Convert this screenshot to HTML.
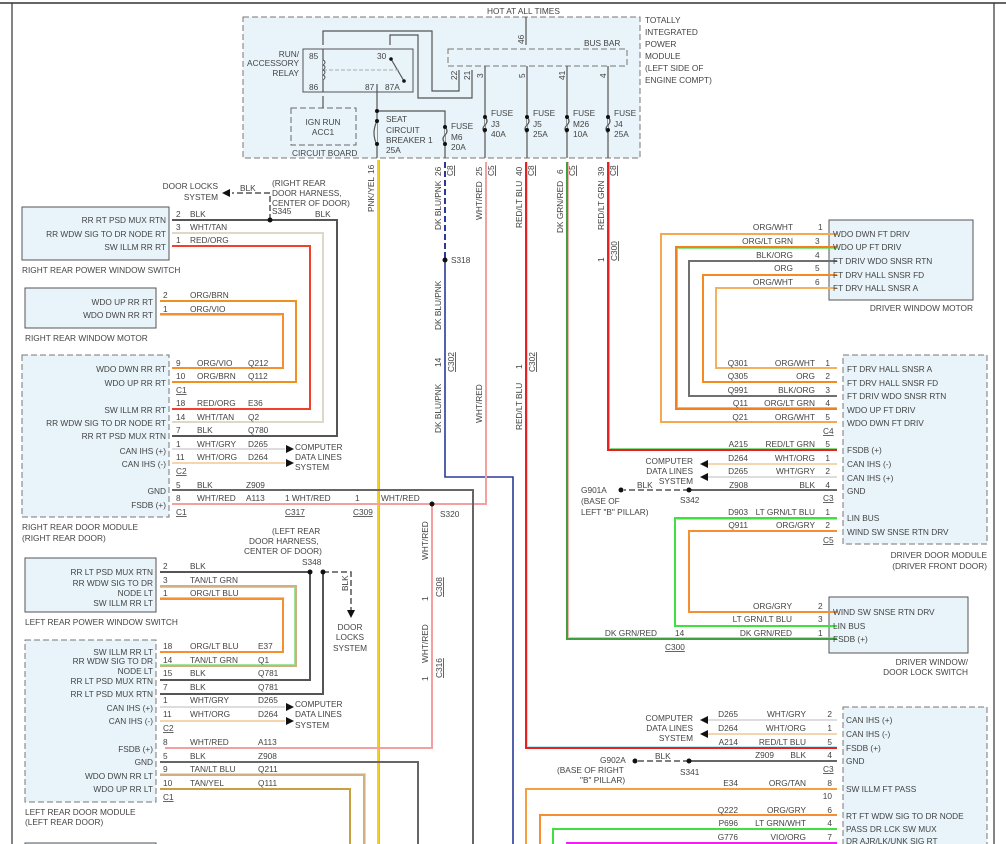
<!DOCTYPE html>
<html><head><meta charset="utf-8"><style>
html,body{margin:0;padding:0;background:#fff;}
svg{display:block;font-family:"Liberation Sans",sans-serif;}
text{font-size:8.3px;fill:#444;}
</style></head><body>
<svg width="1006" height="844" viewBox="0 0 1006 844" xmlns="http://www.w3.org/2000/svg">
<g fill="none" stroke-linejoin="miter">
<line x1="0" y1="3" x2="1006" y2="3" stroke="#333" stroke-width="1.5"/>
<line x1="12" y1="3" x2="12" y2="844" stroke="#333" stroke-width="1.2"/>
<line x1="994" y1="3" x2="994" y2="844" stroke="#333" stroke-width="1.2"/>

<rect x="243" y="17" width="397" height="141" fill="#e8f4fa" stroke="#777" stroke-dasharray="6,3"/>
<rect x="448" y="49" width="179" height="17" fill="#e8f4fa" stroke="#777" stroke-dasharray="6,3"/>
<rect x="303" y="49" width="110" height="43" stroke="#555"/>
<rect x="291" y="108" width="65" height="37" stroke="#666" stroke-dasharray="6,3"/>

<rect x="22" y="207" width="147" height="53" fill="#e8f4fa" stroke="#555"/>
<rect x="25" y="288" width="131" height="40" fill="#e8f4fa" stroke="#555"/>
<rect x="22" y="355" width="147" height="162" fill="#e8f4fa" stroke="#777" stroke-dasharray="6,3"/>
<rect x="25" y="558" width="131" height="54" fill="#e8f4fa" stroke="#555"/>
<rect x="25" y="640" width="131" height="162" fill="#e8f4fa" stroke="#777" stroke-dasharray="6,3"/>
<rect x="25" y="843" width="131" height="10" fill="#e8f4fa" stroke="#555"/>

<rect x="829" y="220" width="144" height="80" fill="#e8f4fa" stroke="#555"/>
<rect x="843" y="355" width="144" height="189" fill="#e8f4fa" stroke="#777" stroke-dasharray="6,3"/>
<rect x="829" y="597" width="139" height="56" fill="#e8f4fa" stroke="#555"/>
<rect x="843" y="707" width="144" height="150" fill="#e8f4fa" stroke="#777" stroke-dasharray="6,3"/>

<g stroke="#555" stroke-width="1.2">
<polyline points="526,17 526,45"/>
<polyline points="323,45 323,31 432,31 432,91 459,91 459,70"/>
<polyline points="390,45 390,35 418,35 418,98 472,98 472,70"/>
<polyline points="323,49 323,92"/>
<polyline points="323,96 323,108"/>
<polyline points="391,59 404,81"/>
<polyline points="377,84 377,158"/>
<polyline points="377,111 445,111 445,158"/>
<polyline points="485,66 485,158"/><polyline points="527,66 527,158"/>
<polyline points="567,66 567,158"/><polyline points="608,66 608,158"/>
</g>
<line x1="323" y1="70" x2="400" y2="70" stroke="#aaa" stroke-dasharray="4,2"/>
<path d="M323,60 q4,2 0,5 q4,2 0,5 q4,2 0,5 q4,2 0,5" stroke="#555" fill="#e8f4fa"/>
<g fill="#e8f4fa" stroke="#555" stroke-width="1.2">
<path d="M377,121 q-6,12 0,24"/>
<path d="M445,127 q4,4 0,8 q-4,4 0,8"/>
<path d="M485,117 q4,4 0,8 q-4,4 0,8"/><path d="M527,117 q4,4 0,8 q-4,4 0,8"/>
<path d="M567,117 q4,4 0,8 q-4,4 0,8"/><path d="M608,117 q4,4 0,8 q-4,4 0,8"/>
</g>
</g>
<g fill="#111">
<circle cx="377" cy="111" r="2"/><circle cx="377" cy="121" r="2"/><circle cx="377" cy="144" r="2"/>
<circle cx="445" cy="127" r="2"/><circle cx="445" cy="144" r="2"/>
<circle cx="485" cy="117" r="2"/><circle cx="485" cy="130" r="2"/>
<circle cx="527" cy="117" r="2"/><circle cx="527" cy="130" r="2"/>
<circle cx="567" cy="117" r="2"/><circle cx="567" cy="130" r="2"/>
<circle cx="608" cy="117" r="2"/><circle cx="608" cy="130" r="2"/>
<circle cx="391" cy="59" r="1.8"/><circle cx="404" cy="81" r="1.8"/>
</g>

<g fill="none" stroke-width="2">
<polyline points="378,160 378,844" stroke="#f5d020"/><polyline points="379.5,160 379.5,844" stroke="#f4a0a0" stroke-width="1"/>
<polyline points="445,162 445,258" stroke="#2a3a9a" stroke-dasharray="6,3"/>
<polyline points="445,260 445,477 513,477 513,844" stroke="#2a3a9a" stroke-width="1.6"/>
<polyline points="486,162 486,504 172,504" stroke="#f4a0a0"/>
<polyline points="432,504 432,748 165,748" stroke="#f4a0a0"/>
<polyline points="526,162 526,748 837,748" stroke="#e82020"/><polyline points="527.5,162 527.5,746.5 837,746.5" stroke="#a0e0f0" stroke-width="0.8"/>
<polyline points="567,162 567,639 837,639" stroke="#40a040"/><polyline points="568.5,162 568.5,637.5 837,637.5" stroke="#f4a0a0" stroke-width="0.8"/>
<polyline points="608,162 608,450 837,450" stroke="#e82020"/><polyline points="609.5,162 609.5,448.5 837,448.5" stroke="#60d060" stroke-width="0.8"/>
<polyline points="172,490 473,490 473,844" stroke="#666"/>
<polyline points="172,220 337,220 337,436 172,436" stroke="#555"/>
<polyline points="172,233 323,233 323,422 172,422" stroke="#ddd8c8"/>
<polyline points="172,246 310,246 310,409 172,409" stroke="#f04030"/>
<polyline points="160,301 296,301 296,382 172,382" stroke="#f0901e"/>
<polyline points="160,314 283,314 283,368 172,368" stroke="#f59030"/><polyline points="160,315.5 281.5,315.5" stroke="#f0a0f0" stroke-width="0.8"/>
<polyline points="172,449 285,449" stroke="#ddd"/>
<polyline points="172,463 285,463" stroke="#f5d5b0"/>
<polyline points="160,572 310,572 310,680 160,680" stroke="#555"/>
<polyline points="323,572 323,694 160,694" stroke="#555"/>
<polyline points="160,586 296,586 296,666 160,666" stroke="#d0b080"/><polyline points="160,587.5 294.5,587.5 294.5,664.5 160,664.5" stroke="#80e080" stroke-width="0.8"/>
<polyline points="160,599 283,599 283,652 160,652" stroke="#f59030"/><polyline points="160,597.5 284.5,597.5" stroke="#80d0e0" stroke-width="0.8"/>
<polyline points="160,707 285,707" stroke="#ddd"/>
<polyline points="160,721 285,721" stroke="#f5d5b0"/>
<polyline points="160,762 418,762 418,844" stroke="#666"/>
<polyline points="160,775 364,775 364,844" stroke="#d0b080"/><polyline points="160,773.5 365.5,773.5 365.5,844" stroke="#a0e0f0" stroke-width="0.8"/>
<polyline points="160,789 350,789 350,844" stroke="#c8a040"/>
<polyline points="837,234 661,234 661,422 837,422" stroke="#f5a850"/>
<polyline points="837,247 676,247 676,409 837,409" stroke="#f08020"/><polyline points="837,248.5 677.5,248.5 677.5,407.5 837,407.5" stroke="#60e060" stroke-width="0.8"/>
<polyline points="837,261 689,261 689,396 837,396" stroke="#707070"/>
<polyline points="837,275 703,275 703,382 837,382" stroke="#f58a20"/>
<polyline points="837,288 716,288 716,368 837,368" stroke="#f5b060"/>
<polyline points="837,464 708,464" stroke="#f5d5b0"/>
<polyline points="837,477 708,477" stroke="#ddd"/>
<polyline points="837,490 689,490" stroke="#666"/>
<polyline points="837,518 675,518 675,626 837,626" stroke="#40e040"/><polyline points="837,519.5 676.5,519.5" stroke="#80d0e0" stroke-width="0.8"/>
<polyline points="837,531 689,531 689,612 837,612" stroke="#f59030"/>
<polyline points="837,720 708,720" stroke="#ddd"/>
<polyline points="837,734 708,734" stroke="#f5d5b0"/>
<polyline points="837,761 689,761" stroke="#666"/>
<polyline points="837,789 526,789 526,844" stroke="#f5a040"/>
<polyline points="837,815 540,815 540,844" stroke="#f59030"/>
<polyline points="837,829 553,829 553,844" stroke="#40e040"/>
<polyline points="837,843 567,843 567,844" stroke="#f020f0"/>
</g>
<g stroke="#555" stroke-width="1.5" stroke-dasharray="6,3" fill="none">
<polyline points="270,220 270,193 232,193"/>
<polyline points="323,572 351,572 351,610"/>
<polyline points="689,490 624,490"/>
<polyline points="689,761 636,761"/>
</g>
<g fill="#111">
<polygon points="222,193 230,189 230,197"/>
<polygon points="347,610 355,610 351,618"/>
<polygon points="286,445 294,449 286,453"/><polygon points="286,459 294,463 286,467"/>
<polygon points="286,703 294,707 286,711"/><polygon points="286,717 294,721 286,725"/>
<polygon points="708,460 700,464 708,468"/><polygon points="708,473 700,477 708,481"/>
<polygon points="708,716 700,720 708,724"/><polygon points="708,730 700,734 708,738"/>
<circle cx="270" cy="220" r="2.5"/><circle cx="445" cy="260" r="2.5"/><circle cx="432" cy="504" r="2.5"/>
<circle cx="310" cy="572" r="2.5"/><circle cx="323" cy="572" r="2.5"/>
<circle cx="689" cy="490" r="2.5"/><circle cx="621" cy="490" r="2.5"/>
<circle cx="689" cy="761" r="2.5"/><circle cx="635" cy="761" r="2.5"/>
</g>

<text x="487" y="14">HOT AT ALL TIMES</text>
<text x="645" y="23">TOTALLY</text><text x="645" y="35">INTEGRATED</text><text x="645" y="47">POWER</text><text x="645" y="59">MODULE</text><text x="645" y="71">(LEFT SIDE OF</text><text x="645" y="83">ENGINE COMPT)</text>
<text x="584" y="46">BUS BAR</text>
<text x="299" y="57" text-anchor="end">RUN/</text><text x="299" y="66" text-anchor="end">ACCESSORY</text><text x="299" y="76" text-anchor="end">RELAY</text>
<text x="309" y="59">85</text><text x="309" y="90">86</text><text x="377" y="59">30</text><text x="365" y="90">87</text><text x="385" y="90">87A</text>
<text x="323" y="125" text-anchor="middle">IGN RUN</text><text x="323" y="135" text-anchor="middle">ACC1</text>
<text x="292" y="156">CIRCUIT BOARD</text>
<text x="386" y="122">SEAT</text><text x="386" y="133">CIRCUIT</text><text x="386" y="143">BREAKER 1</text><text x="386" y="153">25A</text>
<text x="451" y="129">FUSE</text><text x="451" y="140">M6</text><text x="451" y="150">20A</text>
<text x="491" y="116">FUSE</text><text x="491" y="127">J3</text><text x="491" y="137">40A</text>
<text x="533" y="116">FUSE</text><text x="533" y="127">J5</text><text x="533" y="137">25A</text>
<text x="573" y="116">FUSE</text><text x="573" y="127">M26</text><text x="573" y="137">10A</text>
<text x="614" y="116">FUSE</text><text x="614" y="127">J4</text><text x="614" y="137">25A</text>
<g font-size="8">
<text transform="translate(524,44) rotate(-90)">46</text>
<text transform="translate(457,80) rotate(-90)">22</text><text transform="translate(470,80) rotate(-90)">21</text>
<text transform="translate(483,78) rotate(-90)">3</text><text transform="translate(525,78) rotate(-90)">5</text>
<text transform="translate(565,80) rotate(-90)">41</text><text transform="translate(606,78) rotate(-90)">4</text>
</g>
<g>
<text transform="translate(374,174) rotate(-90)">16</text><text transform="translate(374,212) rotate(-90)">PNK/YEL</text>
<text transform="translate(441,176) rotate(-90)">26</text><text transform="translate(453,176) rotate(-90)" text-decoration="underline">C8</text>
<text transform="translate(441,230) rotate(-90)">DK BLU/PNK</text>
<text transform="translate(441,330) rotate(-90)">DK BLU/PNK</text>
<text transform="translate(441,433) rotate(-90)">DK BLU/PNK</text>
<text transform="translate(441,367) rotate(-90)">14</text><text transform="translate(454,372) rotate(-90)" text-decoration="underline">C302</text>
<text transform="translate(482,176) rotate(-90)">25</text><text transform="translate(494,176) rotate(-90)" text-decoration="underline">C5</text>
<text transform="translate(482,220) rotate(-90)">WHT/RED</text><text transform="translate(482,423) rotate(-90)">WHT/RED</text>
<text transform="translate(522,176) rotate(-90)">40</text><text transform="translate(534,176) rotate(-90)" text-decoration="underline">C8</text>
<text transform="translate(522,228) rotate(-90)">RED/LT BLU</text><text transform="translate(522,430) rotate(-90)">RED/LT BLU</text>
<text transform="translate(522,369) rotate(-90)">1</text><text transform="translate(535,372) rotate(-90)" text-decoration="underline">C302</text>
<text transform="translate(563,174) rotate(-90)">6</text><text transform="translate(575,176) rotate(-90)" text-decoration="underline">C5</text>
<text transform="translate(563,233) rotate(-90)">DK GRN/RED</text>
<text transform="translate(604,176) rotate(-90)">39</text><text transform="translate(616,176) rotate(-90)" text-decoration="underline">C8</text>
<text transform="translate(604,230) rotate(-90)">RED/LT GRN</text>
<text transform="translate(604,262) rotate(-90)">1</text><text transform="translate(617,261) rotate(-90)" text-decoration="underline">C300</text>
<text transform="translate(428,560) rotate(-90)">WHT/RED</text><text transform="translate(428,663) rotate(-90)">WHT/RED</text>
<text transform="translate(428,601) rotate(-90)">1</text><text transform="translate(442,597) rotate(-90)" text-decoration="underline">C308</text>
<text transform="translate(428,681) rotate(-90)">1</text><text transform="translate(442,678) rotate(-90)" text-decoration="underline">C316</text>
<text transform="translate(348,591) rotate(-90)">BLK</text>
</g>
<text x="451" y="263">S318</text>
<text x="440" y="517">S320</text>
<text x="166" y="223" text-anchor="end">RR RT PSD MUX RTN</text>
<text x="166" y="237" text-anchor="end">RR WDW SIG TO DR NODE RT</text>
<text x="166" y="250" text-anchor="end">SW ILLM RR RT</text>
<text x="22" y="273">RIGHT REAR POWER WINDOW SWITCH</text>
<text x="176" y="217">2</text><text x="190" y="217">BLK</text>
<text x="176" y="230">3</text><text x="190" y="230">WHT/TAN</text>
<text x="176" y="243">1</text><text x="190" y="243">RED/ORG</text>
<text x="315" y="217">BLK</text>
<text x="272" y="186">(RIGHT REAR</text><text x="272" y="196">DOOR HARNESS,</text><text x="272" y="206">CENTER OF DOOR)</text><text x="272" y="214">S345</text>
<text x="240" y="191">BLK</text>
<text x="218" y="189" text-anchor="end">DOOR LOCKS</text><text x="218" y="200" text-anchor="end">SYSTEM</text>
<text x="153" y="305" text-anchor="end">WDO UP RR RT</text><text x="153" y="318" text-anchor="end">WDO DWN RR RT</text>
<text x="163" y="298">2</text><text x="190" y="298">ORG/BRN</text>
<text x="163" y="312">1</text><text x="190" y="312">ORG/VIO</text>
<text x="25" y="341">RIGHT REAR WINDOW MOTOR</text>
<text x="166" y="372" text-anchor="end">WDO DWN RR RT</text>
<text x="166" y="386" text-anchor="end">WDO UP RR RT</text>
<text x="166" y="413" text-anchor="end">SW ILLM RR RT</text>
<text x="166" y="426" text-anchor="end">RR WDW SIG TO DR NODE RT</text>
<text x="166" y="439" text-anchor="end">RR RT PSD MUX RTN</text>
<text x="166" y="454" text-anchor="end">CAN IHS (+)</text>
<text x="166" y="467" text-anchor="end">CAN IHS (-)</text>
<text x="166" y="494" text-anchor="end">GND</text>
<text x="166" y="508" text-anchor="end">FSDB (+)</text>
<text x="176" y="366">9</text><text x="197" y="366">ORG/VIO</text><text x="248" y="366">Q212</text>
<text x="176" y="379">10</text><text x="197" y="379">ORG/BRN</text><text x="248" y="379">Q112</text>
<text x="176" y="393" text-decoration="underline">C1</text>
<text x="176" y="406">18</text><text x="197" y="406">RED/ORG</text><text x="248" y="406">E36</text>
<text x="176" y="420">14</text><text x="197" y="420">WHT/TAN</text><text x="248" y="420">Q2</text>
<text x="176" y="433">7</text><text x="197" y="433">BLK</text><text x="248" y="433">Q780</text>
<text x="176" y="447">1</text><text x="197" y="447">WHT/GRY</text><text x="248" y="447">D265</text>
<text x="176" y="460">11</text><text x="197" y="460">WHT/ORG</text><text x="248" y="460">D264</text>
<text x="176" y="474" text-decoration="underline">C2</text>
<text x="176" y="488">5</text><text x="197" y="488">BLK</text><text x="246" y="488">Z909</text>
<text x="176" y="501">8</text><text x="197" y="501">WHT/RED</text><text x="246" y="501">A113</text>
<text x="176" y="515" text-decoration="underline">C1</text>
<text x="285" y="501">1 WHT/RED</text><text x="285" y="515" text-decoration="underline">C317</text>
<text x="355" y="501">1</text><text x="353" y="515" text-decoration="underline">C309</text>
<text x="381" y="501">WHT/RED</text>
<text x="295" y="450">COMPUTER</text><text x="295" y="460">DATA LINES</text><text x="295" y="470">SYSTEM</text>
<text x="22" y="530">RIGHT REAR DOOR MODULE</text><text x="22" y="541">(RIGHT REAR DOOR)</text>
<text x="272" y="534">(LEFT REAR</text><text x="249" y="544">DOOR HARNESS,</text><text x="244" y="554">CENTER OF DOOR)</text><text x="302" y="565">S348</text>
<text x="153" y="575" text-anchor="end">RR LT PSD MUX RTN</text>
<text x="153" y="586" text-anchor="end">RR WDW SIG TO DR</text>
<text x="153" y="596" text-anchor="end">NODE LT</text>
<text x="153" y="606" text-anchor="end">SW ILLM RR LT</text>
<text x="163" y="569">2</text><text x="190" y="569">BLK</text>
<text x="163" y="583">3</text><text x="190" y="583">TAN/LT GRN</text>
<text x="163" y="596">1</text><text x="190" y="596">ORG/LT BLU</text>
<text x="25" y="625">LEFT REAR POWER WINDOW SWITCH</text>
<text x="350" y="630" text-anchor="middle">DOOR</text><text x="350" y="640" text-anchor="middle">LOCKS</text><text x="350" y="651" text-anchor="middle">SYSTEM</text>
<text x="153" y="655" text-anchor="end">SW ILLM RR LT</text>
<text x="153" y="664" text-anchor="end">RR WDW SIG TO DR</text>
<text x="153" y="674" text-anchor="end">NODE LT</text>
<text x="153" y="684" text-anchor="end">RR LT PSD MUX RTN</text>
<text x="153" y="697" text-anchor="end">RR LT PSD MUX RTN</text>
<text x="153" y="711" text-anchor="end">CAN IHS (+)</text>
<text x="153" y="724" text-anchor="end">CAN IHS (-)</text>
<text x="153" y="752" text-anchor="end">FSDB (+)</text>
<text x="153" y="765" text-anchor="end">GND</text>
<text x="153" y="779" text-anchor="end">WDO DWN RR LT</text>
<text x="153" y="792" text-anchor="end">WDO UP RR LT</text>
<text x="163" y="649">18</text><text x="190" y="649">ORG/LT BLU</text><text x="258" y="649">E37</text>
<text x="163" y="663">14</text><text x="190" y="663">TAN/LT GRN</text><text x="258" y="663">Q1</text>
<text x="163" y="676">15</text><text x="190" y="676">BLK</text><text x="258" y="676">Q781</text>
<text x="163" y="690">7</text><text x="190" y="690">BLK</text><text x="258" y="690">Q781</text>
<text x="163" y="703">1</text><text x="190" y="703">WHT/GRY</text><text x="258" y="703">D265</text>
<text x="163" y="717">11</text><text x="190" y="717">WHT/ORG</text><text x="258" y="717">D264</text>
<text x="163" y="731" text-decoration="underline">C2</text>
<text x="163" y="745">8</text><text x="190" y="745">WHT/RED</text><text x="258" y="745">A113</text>
<text x="163" y="759">5</text><text x="190" y="759">BLK</text><text x="258" y="759">Z908</text>
<text x="163" y="772">9</text><text x="190" y="772">TAN/LT BLU</text><text x="258" y="772">Q211</text>
<text x="163" y="786">10</text><text x="190" y="786">TAN/YEL</text><text x="258" y="786">Q111</text>
<text x="163" y="800" text-decoration="underline">C1</text>
<text x="295" y="707">COMPUTER</text><text x="295" y="717">DATA LINES</text><text x="295" y="728">SYSTEM</text>
<text x="25" y="815">LEFT REAR DOOR MODULE</text><text x="25" y="825">(LEFT REAR DOOR)</text>
<text x="833" y="237">WDO DWN FT DRIV</text><text x="833" y="250">WDO UP FT DRIV</text>
<text x="833" y="264">FT DRIV WDO SNSR RTN</text><text x="833" y="278">FT DRV HALL SNSR FD</text>
<text x="833" y="291">FT DRV HALL SNSR A</text>
<text x="973" y="311" text-anchor="end">DRIVER WINDOW MOTOR</text>
<text x="793" y="230" text-anchor="end">ORG/WHT</text><text x="818" y="230">1</text>
<text x="793" y="244" text-anchor="end">ORG/LT GRN</text><text x="815" y="244">3</text>
<text x="793" y="258" text-anchor="end">BLK/ORG</text><text x="815" y="258">4</text>
<text x="793" y="271" text-anchor="end">ORG</text><text x="815" y="271">5</text>
<text x="793" y="285" text-anchor="end">ORG/WHT</text><text x="815" y="285">6</text>
<text x="847" y="372">FT DRV HALL SNSR A</text><text x="847" y="386">FT DRV HALL SNSR FD</text>
<text x="847" y="399">FT DRIV WDO SNSR RTN</text><text x="847" y="413">WDO UP FT DRIV</text>
<text x="847" y="426">WDO DWN FT DRIV</text>
<text x="847" y="453">FSDB (+)</text><text x="847" y="467">CAN IHS (-)</text><text x="847" y="481">CAN IHS (+)</text><text x="847" y="494">GND</text>
<text x="847" y="521">LIN BUS</text><text x="847" y="535">WIND SW SNSE RTN DRV</text>
<text x="987" y="558" text-anchor="end">DRIVER DOOR MODULE</text><text x="987" y="569" text-anchor="end">(DRIVER FRONT DOOR)</text>
<g>
<text x="748" y="366" text-anchor="end">Q301</text><text x="815" y="366" text-anchor="end">ORG/WHT</text><text x="830" y="366" text-anchor="end">1</text>
<text x="748" y="379" text-anchor="end">Q305</text><text x="815" y="379" text-anchor="end">ORG</text><text x="830" y="379" text-anchor="end">2</text>
<text x="748" y="393" text-anchor="end">Q991</text><text x="815" y="393" text-anchor="end">BLK/ORG</text><text x="830" y="393" text-anchor="end">3</text>
<text x="748" y="406" text-anchor="end">Q11</text><text x="815" y="406" text-anchor="end">ORG/LT GRN</text><text x="830" y="406" text-anchor="end">4</text>
<text x="748" y="420" text-anchor="end">Q21</text><text x="815" y="420" text-anchor="end">ORG/WHT</text><text x="830" y="420" text-anchor="end">5</text>
<text x="823" y="434" text-decoration="underline">C4</text>
<text x="748" y="447" text-anchor="end">A215</text><text x="815" y="447" text-anchor="end">RED/LT GRN</text><text x="830" y="447" text-anchor="end">5</text>
<text x="748" y="461" text-anchor="end">D264</text><text x="815" y="461" text-anchor="end">WHT/ORG</text><text x="830" y="461" text-anchor="end">1</text>
<text x="748" y="474" text-anchor="end">D265</text><text x="815" y="474" text-anchor="end">WHT/GRY</text><text x="830" y="474" text-anchor="end">2</text>
<text x="748" y="488" text-anchor="end">Z908</text><text x="815" y="488" text-anchor="end">BLK</text><text x="830" y="488" text-anchor="end">4</text>
<text x="823" y="501" text-decoration="underline">C3</text>
<text x="748" y="515" text-anchor="end">D903</text><text x="815" y="515" text-anchor="end">LT GRN/LT BLU</text><text x="830" y="515" text-anchor="end">1</text>
<text x="748" y="528" text-anchor="end">Q911</text><text x="815" y="528" text-anchor="end">ORG/GRY</text><text x="830" y="528" text-anchor="end">2</text>
<text x="823" y="543" text-decoration="underline">C5</text>
</g>
<text x="693" y="464" text-anchor="end">COMPUTER</text><text x="693" y="474" text-anchor="end">DATA LINES</text><text x="693" y="484" text-anchor="end">SYSTEM</text>
<text x="637" y="488">BLK</text>
<text x="581" y="493">G901A</text><text x="581" y="504">(BASE OF</text><text x="581" y="515">LEFT "B" PILLAR)</text>
<text x="680" y="503">S342</text>
<text x="833" y="615">WIND SW SNSE RTN DRV</text><text x="833" y="629">LIN BUS</text><text x="833" y="642">FSDB (+)</text>
<text x="968" y="665" text-anchor="end">DRIVER WINDOW/</text><text x="968" y="675" text-anchor="end">DOOR LOCK SWITCH</text>
<text x="792" y="609" text-anchor="end">ORG/GRY</text><text x="818" y="609">2</text>
<text x="792" y="622" text-anchor="end">LT GRN/LT BLU</text><text x="818" y="622">3</text>
<text x="792" y="636" text-anchor="end">DK GRN/RED</text><text x="818" y="636">1</text>
<text x="657" y="636" text-anchor="end">DK GRN/RED</text><text x="675" y="636">14</text>
<text x="665" y="650" text-decoration="underline">C300</text>
<text x="846" y="723">CAN IHS (+)</text><text x="846" y="737">CAN IHS (-)</text><text x="846" y="751">FSDB (+)</text><text x="846" y="764">GND</text>
<text x="846" y="792">SW ILLM FT PASS</text><text x="846" y="819">RT FT WDW SIG TO DR NODE</text>
<text x="846" y="832">PASS DR LCK SW MUX</text><text x="846" y="844">DR AJR/LK/UNK SIG RT</text>
<g>
<text x="738" y="717" text-anchor="end">D265</text><text x="806" y="717" text-anchor="end">WHT/GRY</text><text x="832" y="717" text-anchor="end">2</text>
<text x="738" y="731" text-anchor="end">D264</text><text x="806" y="731" text-anchor="end">WHT/ORG</text><text x="832" y="731" text-anchor="end">1</text>
<text x="738" y="745" text-anchor="end">A214</text><text x="806" y="745" text-anchor="end">RED/LT BLU</text><text x="832" y="745" text-anchor="end">5</text>
<text x="774" y="758" text-anchor="end">Z909</text><text x="806" y="758" text-anchor="end">BLK</text><text x="832" y="758" text-anchor="end">4</text>
<text x="823" y="772" text-decoration="underline">C3</text>
<text x="738" y="786" text-anchor="end">E34</text><text x="806" y="786" text-anchor="end">ORG/TAN</text><text x="832" y="786" text-anchor="end">8</text>
<text x="832" y="799" text-anchor="end">10</text>
<text x="738" y="813" text-anchor="end">Q222</text><text x="806" y="813" text-anchor="end">ORG/GRY</text><text x="832" y="813" text-anchor="end">6</text>
<text x="738" y="826" text-anchor="end">P696</text><text x="806" y="826" text-anchor="end">LT GRN/WHT</text><text x="832" y="826" text-anchor="end">4</text>
<text x="738" y="840" text-anchor="end">G776</text><text x="806" y="840" text-anchor="end">VIO/ORG</text><text x="832" y="840" text-anchor="end">7</text>
</g>
<text x="693" y="721" text-anchor="end">COMPUTER</text><text x="693" y="731" text-anchor="end">DATA LINES</text><text x="693" y="741" text-anchor="end">SYSTEM</text>
<text x="655" y="759">BLK</text>
<text x="600" y="763">G902A</text><text x="557" y="773">(BASE OF RIGHT</text><text x="580" y="783">"B" PILLAR)</text>
<text x="680" y="775">S341</text>
</svg>
</body></html>
